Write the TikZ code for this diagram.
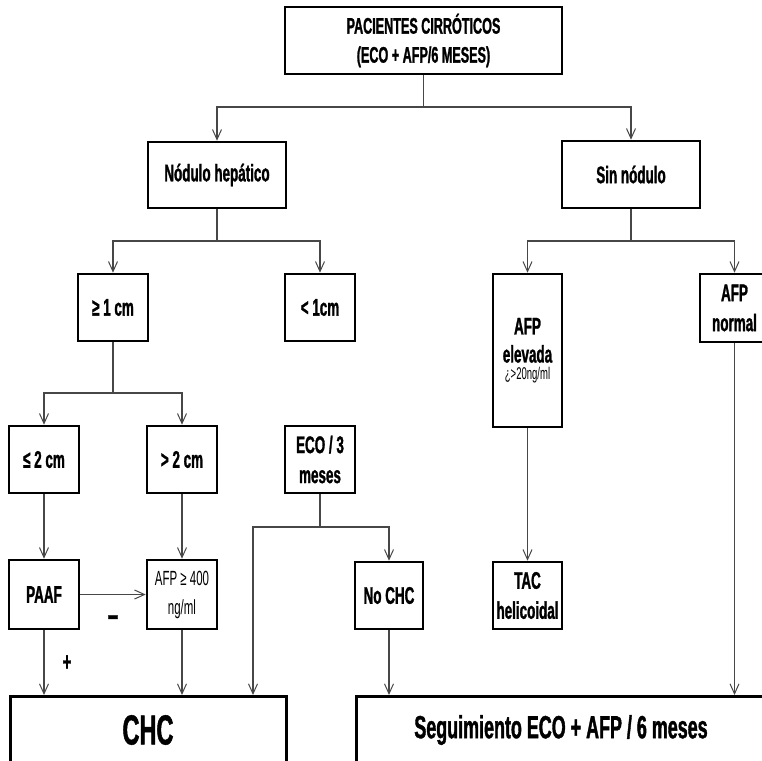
\documentclass[tikz,border=0pt]{standalone}
\usepackage{fontspec}
\setmainfont{Liberation Sans}
\newfontfamily\nf{Liberation Sans}[FakeStretch=0.56, BoldFeatures={FakeBold=1.2}]
\usetikzlibrary{arrows.meta}
\begin{document}
\begin{tikzpicture}[x=1pt,y=-1pt,
  box/.style={draw=black, line width=2.6pt, inner sep=0pt, align=center,
    font=\nf\bfseries\fontsize{24}{30}\selectfont},
  conn/.style={draw=black!72, line width=1.1pt},
  arr/.style={conn, -{Straight Barb[length=10pt,width=9pt,line width=1pt]}},
  lbl/.style={inner sep=0pt, font=\nf\bfseries\fontsize{26}{26}\selectfont}]
\useasboundingbox (0,0) rectangle (762,760);
\clip (0,0) rectangle (762,760);
\fill[white] (0,0) rectangle (762,760);
% boxes
\node[box, minimum width=277pt, minimum height=67pt,
  font=\nf\bfseries\fontsize{22.5}{29}\selectfont] (top) at (423.5,40.5)
  {PACIENTES CIRRÓTICOS\\(ECO + AFP/6 MESES)};
\node[box, minimum width=138pt, minimum height=66pt] (nod) at (217,175) {Nódulo hepático};
\node[box, minimum width=138pt, minimum height=67pt] (sin) at (631,174.5) {Sin nódulo};
\node[box, minimum width=70pt, minimum height=67pt] (ge1) at (113,307.5) {≥ 1 cm};
\node[box, minimum width=70pt, minimum height=67pt] (lt1) at (320,307.5) {< 1cm};
\node[box, minimum width=70pt, minimum height=67pt] (le2) at (44,459.5) {≤ 2 cm};
\node[box, minimum width=70pt, minimum height=67pt] (gt2) at (182,459.5) {> 2 cm};
\node[box, minimum width=70pt, minimum height=67pt] (eco) at (320,459.5) {ECO / 3\\meses};
\node[box, minimum width=70pt, minimum height=69pt] (paaf) at (44,594.5) {PAAF};
\node[box, minimum width=70pt, minimum height=69pt,
  font=\nf\fontsize{20.5}{29}\selectfont] (afp400) at (182,594.5) {AFP ≥ 400\\ng/ml};
\node[box, minimum width=68pt, minimum height=67pt] (nochc) at (389,595.5) {No CHC};
\node[box, minimum width=69pt, minimum height=67pt] (tac) at (527.5,595.5) {TAC\\helicoidal};
\node[box, minimum width=69pt, minimum height=153pt,
  font=\nf\bfseries\fontsize{24}{28}\selectfont] (afpel) at (527.5,350.5)
  {AFP\\elevada\\[-11pt]{\nf\mdseries\fontsize{17}{17}\selectfont ¿>20ng/ml}};
\node[box, minimum width=69pt, minimum height=68pt] (afpnorm) at (734.5,308) {AFP\\normal};
\node[box, minimum width=276pt, minimum height=140pt, anchor=north west] (chcbox) at (9,695) {};
\node[inner sep=0pt, font=\nf\bfseries\fontsize{42}{42}\selectfont] (chc) at (148,730) {CHC};
\node[box, minimum width=450pt, minimum height=140pt, anchor=north west] (segbox) at (355,695) {};
\node[inner sep=0pt, font=\nf\bfseries\fontsize{32}{32}\selectfont] (seg) at (561,730)
  {Seguimiento ECO + AFP / 6 meses};
% labels
\node[lbl, font=\nf\bfseries\fontsize{34}{34}\selectfont] (minus) at (113,621) {–};
\node[lbl] (plus) at (67,663) {+};
% junctions
\coordinate (tj) at (423.5,107);
\coordinate (nj) at (217,241);
\coordinate (sj) at (631,241);
\coordinate (gj) at (113,393);
\coordinate (ej) at (320,527);
\coordinate (ec) at (253,527);
% connectors
\draw[conn] (top.south) -- (tj);
\draw[arr] (tj) -| (nod.north);
\draw[arr] (tj) -| (sin.north);
\draw[conn] (nod.south) -- (nj);
\draw[arr] (nj) -| (ge1.north);
\draw[arr] (nj) -| (lt1.north);
\draw[conn] (sin.south) -- (sj);
\draw[arr] (sj) -| (afpel.north);
\draw[arr] (sj) -| (afpnorm.north);
\draw[conn] (ge1.south) -- (gj);
\draw[arr] (gj) -| (le2.north);
\draw[arr] (gj) -| (gt2.north);
\draw[arr] (le2.south) -- (paaf.north);
\draw[arr] (gt2.south) -- (afp400.north);
\draw[arr] (paaf.east) -- (afp400.west);
\draw[arr] (paaf.south) -- (paaf.south |- chcbox.north);
\draw[arr] (afp400.south) -- (afp400.south |- chcbox.north);
\draw[conn] (eco.south) -- (ej);
\draw[arr] (ej) -| (nochc.north);
\draw[arr] (ej) -| (ec |- chcbox.north);
\draw[arr] (nochc.south) -- (nochc.south |- segbox.north);
\draw[arr] (afpel.south) -- (tac.north);
\draw[arr] (afpnorm.south) -- (afpnorm.south |- segbox.north);
\end{tikzpicture}
\end{document}
